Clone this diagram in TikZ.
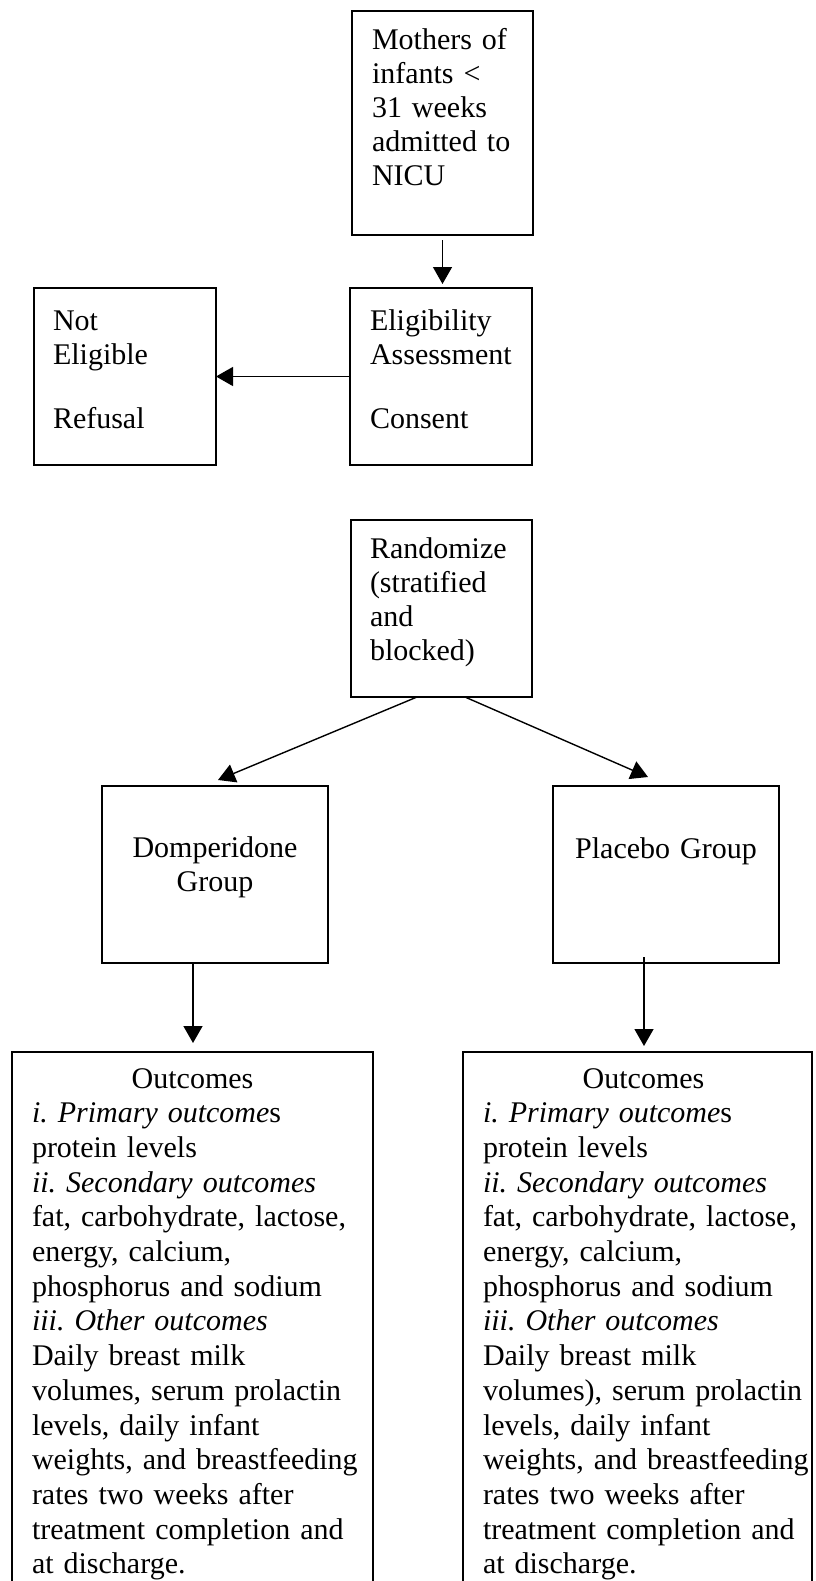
\documentclass[tikz,border=0pt]{standalone}
\usepackage{fontspec}
\setmainfont{Liberation Serif}
\usetikzlibrary{arrows.meta,calc}
\frenchspacing
\begin{document}
\begin{tikzpicture}[x=1pt,y=-1pt,
  box/.style={draw,line width=1.4pt,inner sep=0pt,outer sep=0pt,anchor=north west},
  txt/.style={inner sep=0pt,outer sep=0pt,font=\fontsize{30pt}{34pt}\selectfont\frenchspacing,align=left,anchor=base west},
  otxt/.style={txt,font=\fontsize{30pt}{34.7pt}\selectfont\frenchspacing},
  ctxt/.style={inner sep=0pt,outer sep=0pt,font=\fontsize{30pt}{34pt}\selectfont,align=center,anchor=base},
  arr/.style={line width=1.4pt,-{Triangle[length=17pt,width=19pt]}}]
\useasboundingbox (0,0) rectangle (815,1581);
\fill[white] (0,0) rectangle (815,1581);
\clip (0,0) rectangle (815,1581);
% boxes
\node[box,minimum width=181pt,minimum height=224pt] (moth) at (352,11) {};
\node[box,minimum width=182pt,minimum height=177pt] (nel) at (34,288) {};
\node[box,minimum width=182pt,minimum height=177pt] (elig) at (350,288) {};
\node[box,minimum width=181pt,minimum height=177pt] (rand) at (351,520) {};
\node[box,minimum width=226pt,minimum height=177pt] (dom) at (102,786) {};
\node[box,minimum width=226pt,minimum height=177pt] (plc) at (553,786) {};
\node[box,minimum width=361pt,minimum height=600pt] (out1) at (12,1052) {};
\node[box,minimum width=349pt,minimum height=600pt] (out2) at (463,1052) {};
% texts
\node[txt,text width=170pt] (tmoth) at (372,50) {Mothers of\\infants <\\31 weeks\\admitted to\\NICU};
\node[txt,text width=170pt] (tnel) at (53,330) {Not\\Eligible\\[30pt]Refusal};
\node[txt,text width=170pt] (telig) at (370,330) {Eligibility\\Assessment\\[30pt]Consent};
\node[txt,text width=170pt] (trand) at (370,558) {Randomize\\(stratified\\and\\blocked)};
\node[ctxt,text width=226pt] (tdom) at (215,857) {Domperidone\\Group};
\node[ctxt,text width=226pt] (tplc) at (666,858) {Placebo Group};
\node[otxt,text width=345pt] (tout1) at (32,1088) {\makebox[321pt][c]{Outcomes}\\
\textit{i. Primary outcome}s\\
protein levels\\
\textit{ii. Secondary outcomes}\\
fat, carbohydrate, lactose,\\
energy, calcium,\\
phosphorus and sodium\\
\textit{iii. Other outcomes}\\
Daily breast milk\\
volumes, serum prolactin\\
levels, daily infant\\
weights, and breastfeeding\\
rates two weeks after\\
treatment completion and\\
at discharge.};
\node[otxt,text width=345pt] (tout2) at (483,1088) {\makebox[321pt][c]{Outcomes}\\
\textit{i. Primary outcome}s\\
protein levels\\
\textit{ii. Secondary outcomes}\\
fat, carbohydrate, lactose,\\
energy, calcium,\\
phosphorus and sodium\\
\textit{iii. Other outcomes}\\
Daily breast milk\\
volumes), serum prolactin\\
levels, daily infant\\
weights, and breastfeeding\\
rates two weeks after\\
treatment completion and\\
at discharge.};
% connectors
\draw[arr] ($(moth.south)+(0,5)$) -- ($(moth.south |- elig.north)+(0,-4)$);
\draw[arr] (elig.west) -- (nel.east);
\draw[arr] ($(rand.south west)+(66,0)$) -- ($(dom.north)+(3,-6)$);
\draw[arr] ($(rand.south west)+(114,0)$) -- ($(plc.north)+(-18,-9)$);
\draw[arr] ($(dom.south)+(-22,0)$) -- ($(dom.south)+(-22,80)$);
\draw[arr] ($(plc.south)+(-22,-6)$) -- ($(plc.south)+(-22,83)$);
\end{tikzpicture}
\end{document}
